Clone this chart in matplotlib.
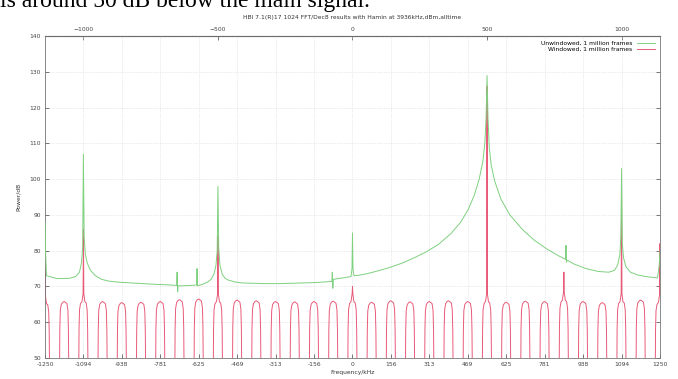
import matplotlib
matplotlib.use("Agg")
import matplotlib.pyplot as plt
import numpy as np

# ---------------- data ----------------
# Unwindowed spectrum (green): frequency (kHz) and power (dB)
green_f = [-1250, -1248, -1244, -1200, -1150, -1125, -1110, -1102, -1097, -1094,
           -1091, -1086, -1078, -1065, -1045, -1020, -990, -950, -900, -850,
           -800, -760, -715, -713, -711, -709, -690, -660, -634, -632, -630,
           -610, -590, -575, -563, -555, -550, -547, -544, -539, -530, -518,
           -505, -480, -450, -400, -350, -300, -250, -200, -150, -110, -84,
           -82, -80, -78, -60, -30, -6, -2, 0, 2, 6, 30, 60, 100, 150, 200,
           250, 300, 350, 400, 440, 470, 495, 515, 530, 538, 543, 547, 551,
           556, 564, 578, 603, 640, 690, 738, 790, 840, 866, 868, 870, 872,
           900, 950, 1000, 1042, 1065, 1078, 1087, 1091, 1094, 1097, 1102,
           1112, 1130, 1160, 1200, 1240, 1247, 1250]
green_db = [88, 80, 73, 72.2, 72.3, 72.8, 74, 76.5, 81, 107,
            84, 79, 76.5, 74.5, 73, 72, 71.5, 71.2, 71, 70.8,
            70.6, 70.5, 70.3, 74, 68.5, 70.2, 70.2, 70.3, 70.4, 75, 70.2,
            70.6, 71.2, 72, 73.5, 76, 80, 98, 81, 76, 73.5, 72.3,
            71.8, 71.3, 71, 70.9, 70.8, 70.8, 70.9, 71, 71.1, 71.3, 71.4,
            74, 69.5, 72, 72.2, 72.5, 72.8, 75, 85, 75, 73, 73.2, 73.6, 74.3, 75.3, 76.5,
            78, 79.7, 81.8, 84.8, 88, 91.5, 95.5, 100, 105, 110, 117, 129, 117,
            109, 104, 99.5, 94.5, 90, 86, 83, 80.5, 78.5, 77.6, 81.5, 76.8, 77.4,
            76.3, 75, 74.2, 74, 74.5, 76, 79, 84, 103, 82, 78,
            75.5, 74, 73.2, 72.7, 72.4, 76, 80]

# Windowed spectrum (red): pulse centres (kHz), pulse top levels (dB)
red_centres = [-1250, -1171.875, -1093.75, -1015.625, -937.5, -859.375, -781.25,
               -703.125, -625, -546.875, -468.75, -390.625, -312.5, -234.375,
               -156.25, -78.125, 0, 78.125, 156.25, 234.375, 312.5, 390.625,
               468.75, 546.875, 625, 703.125, 781.25, 859.375, 937.5, 1015.625,
               1093.75, 1171.875, 1250]
red_tops = [65.5, 65.8, 66.0, 65.8, 65.5, 65.6, 65.8, 66.3, 66.5, 66.0, 66.2,
            66.0, 65.8, 65.7, 65.8, 65.9, 66.0, 65.6, 66.0, 65.7, 65.8, 66.0,
            65.8, 66.0, 65.6, 65.9, 65.8, 66.4, 65.8, 65.5, 66.0, 66.2, 65.8]
# spikes of the windowed spectrum on top of some pulses (centre index -> peak dB)
red_spike_idx = [0, 2, 9, 16, 23, 27, 30, 32]
red_spike_db = [84, 86, 84, 70, 126, 74, 97, 82]
# pulse profile: offsets from centre (kHz) and level relative to top (dB)
pulse_off = [-21, -18, -16, -12, -6, 0, 6, 11, 15, 17, 21]
pulse_rel = [-40, -8, -2.5, -0.8, -0.2, 0, -0.3, -0.6, -2.5, -8, -40]

x_ticks = [-1250, -1093.75, -937.5, -781.25, -625, -468.75, -312.5, -156.25, 0,
           156.25, 312.5, 468.75, 625, 781.25, 937.5, 1093.75, 1250]
x_ticklabels = ["-1250", "-1094", "-938", "-781", "-625", "-469", "-313", "-156", "0",
                "156", "313", "469", "625", "781", "938", "1094", "1250"]
top_ticks = [-1000, -500, 0, 500, 1000]
y_ticks = [50, 60, 70, 80, 90, 100, 110, 120, 130, 140]
top_scale = 1.09375

# build the windowed polyline from pulses
red_f, red_db = [], []
spikes = dict(zip(red_spike_idx, red_spike_db))
for i, (c, t) in enumerate(zip(red_centres, red_tops)):
    for o, r in zip(pulse_off, pulse_rel):
        if i in spikes and o == 0:
            red_f += [c - 1.5, c, c + 1.5]
            red_db += [t + 2, spikes[i], t + 2]
        else:
            red_f.append(c + o)
            red_db.append(t + r)

# ---------------- figure ----------------
fig = plt.figure(figsize=(6.78, 3.79), dpi=100)
ax = fig.add_axes([0.0664, 0.0554, 0.907, 0.849])

ax.plot(red_f, red_db, color="#e85a78", lw=0.7, zorder=2,
        label="Windowed, 1 million frames")
ax.plot(green_f, green_db, color="#7fd07f", lw=0.7, zorder=3,
        label="Unwindowed, 1 million frames")

ax.set_xlim(-1250, 1250)
ax.set_ylim(50, 140)
ax.set_xticks(x_ticks)
ax.set_xticklabels(x_ticklabels)
ax.set_yticks(y_ticks)
ax.grid(True, color="#d8d8d8", lw=0.5, ls=(0, (1, 1.5)))
ax.tick_params(direction="in", length=3, width=0.5, labelsize=4.3, pad=3,
               right=True, colors="#444444")
for s in ax.spines.values():
    s.set_color("#777777")
    s.set_linewidth(0.6)

top = ax.secondary_xaxis("top", functions=(lambda f: f / top_scale,
                                           lambda t: t * top_scale))
top.set_xticks(top_ticks)
top.tick_params(direction="in", length=3, width=0.5, labelsize=4.3, pad=3,
                colors="#444444")

ax.set_xlabel("Frequency/kHz", fontsize=4.3, labelpad=2, color="#333333")
ax.set_ylabel("Power/dB", fontsize=4.3, labelpad=6, color="#333333")

h, l = ax.get_legend_handles_labels()
ax.legend(h[::-1], l[::-1], loc="upper right", frameon=False, fontsize=4.3,
          markerfirst=False, handlelength=3, labelspacing=0.1,
          borderaxespad=0.4)

fig.text(0.52, 0.955, "HBI 7.1(R)17 1024 FFT/Dec8 results with Hamin at 3936kHz,dBm,alltime",
         ha="center", va="center", fontsize=4.3, color="#333333")
fig.text(0.0, 1 - 7 / 379, "is around 50 dB below the main signal.",
         ha="left", va="baseline", fontsize=17, family="Liberation Serif",
         color="black")

fig.savefig("out.png", dpi=100)
